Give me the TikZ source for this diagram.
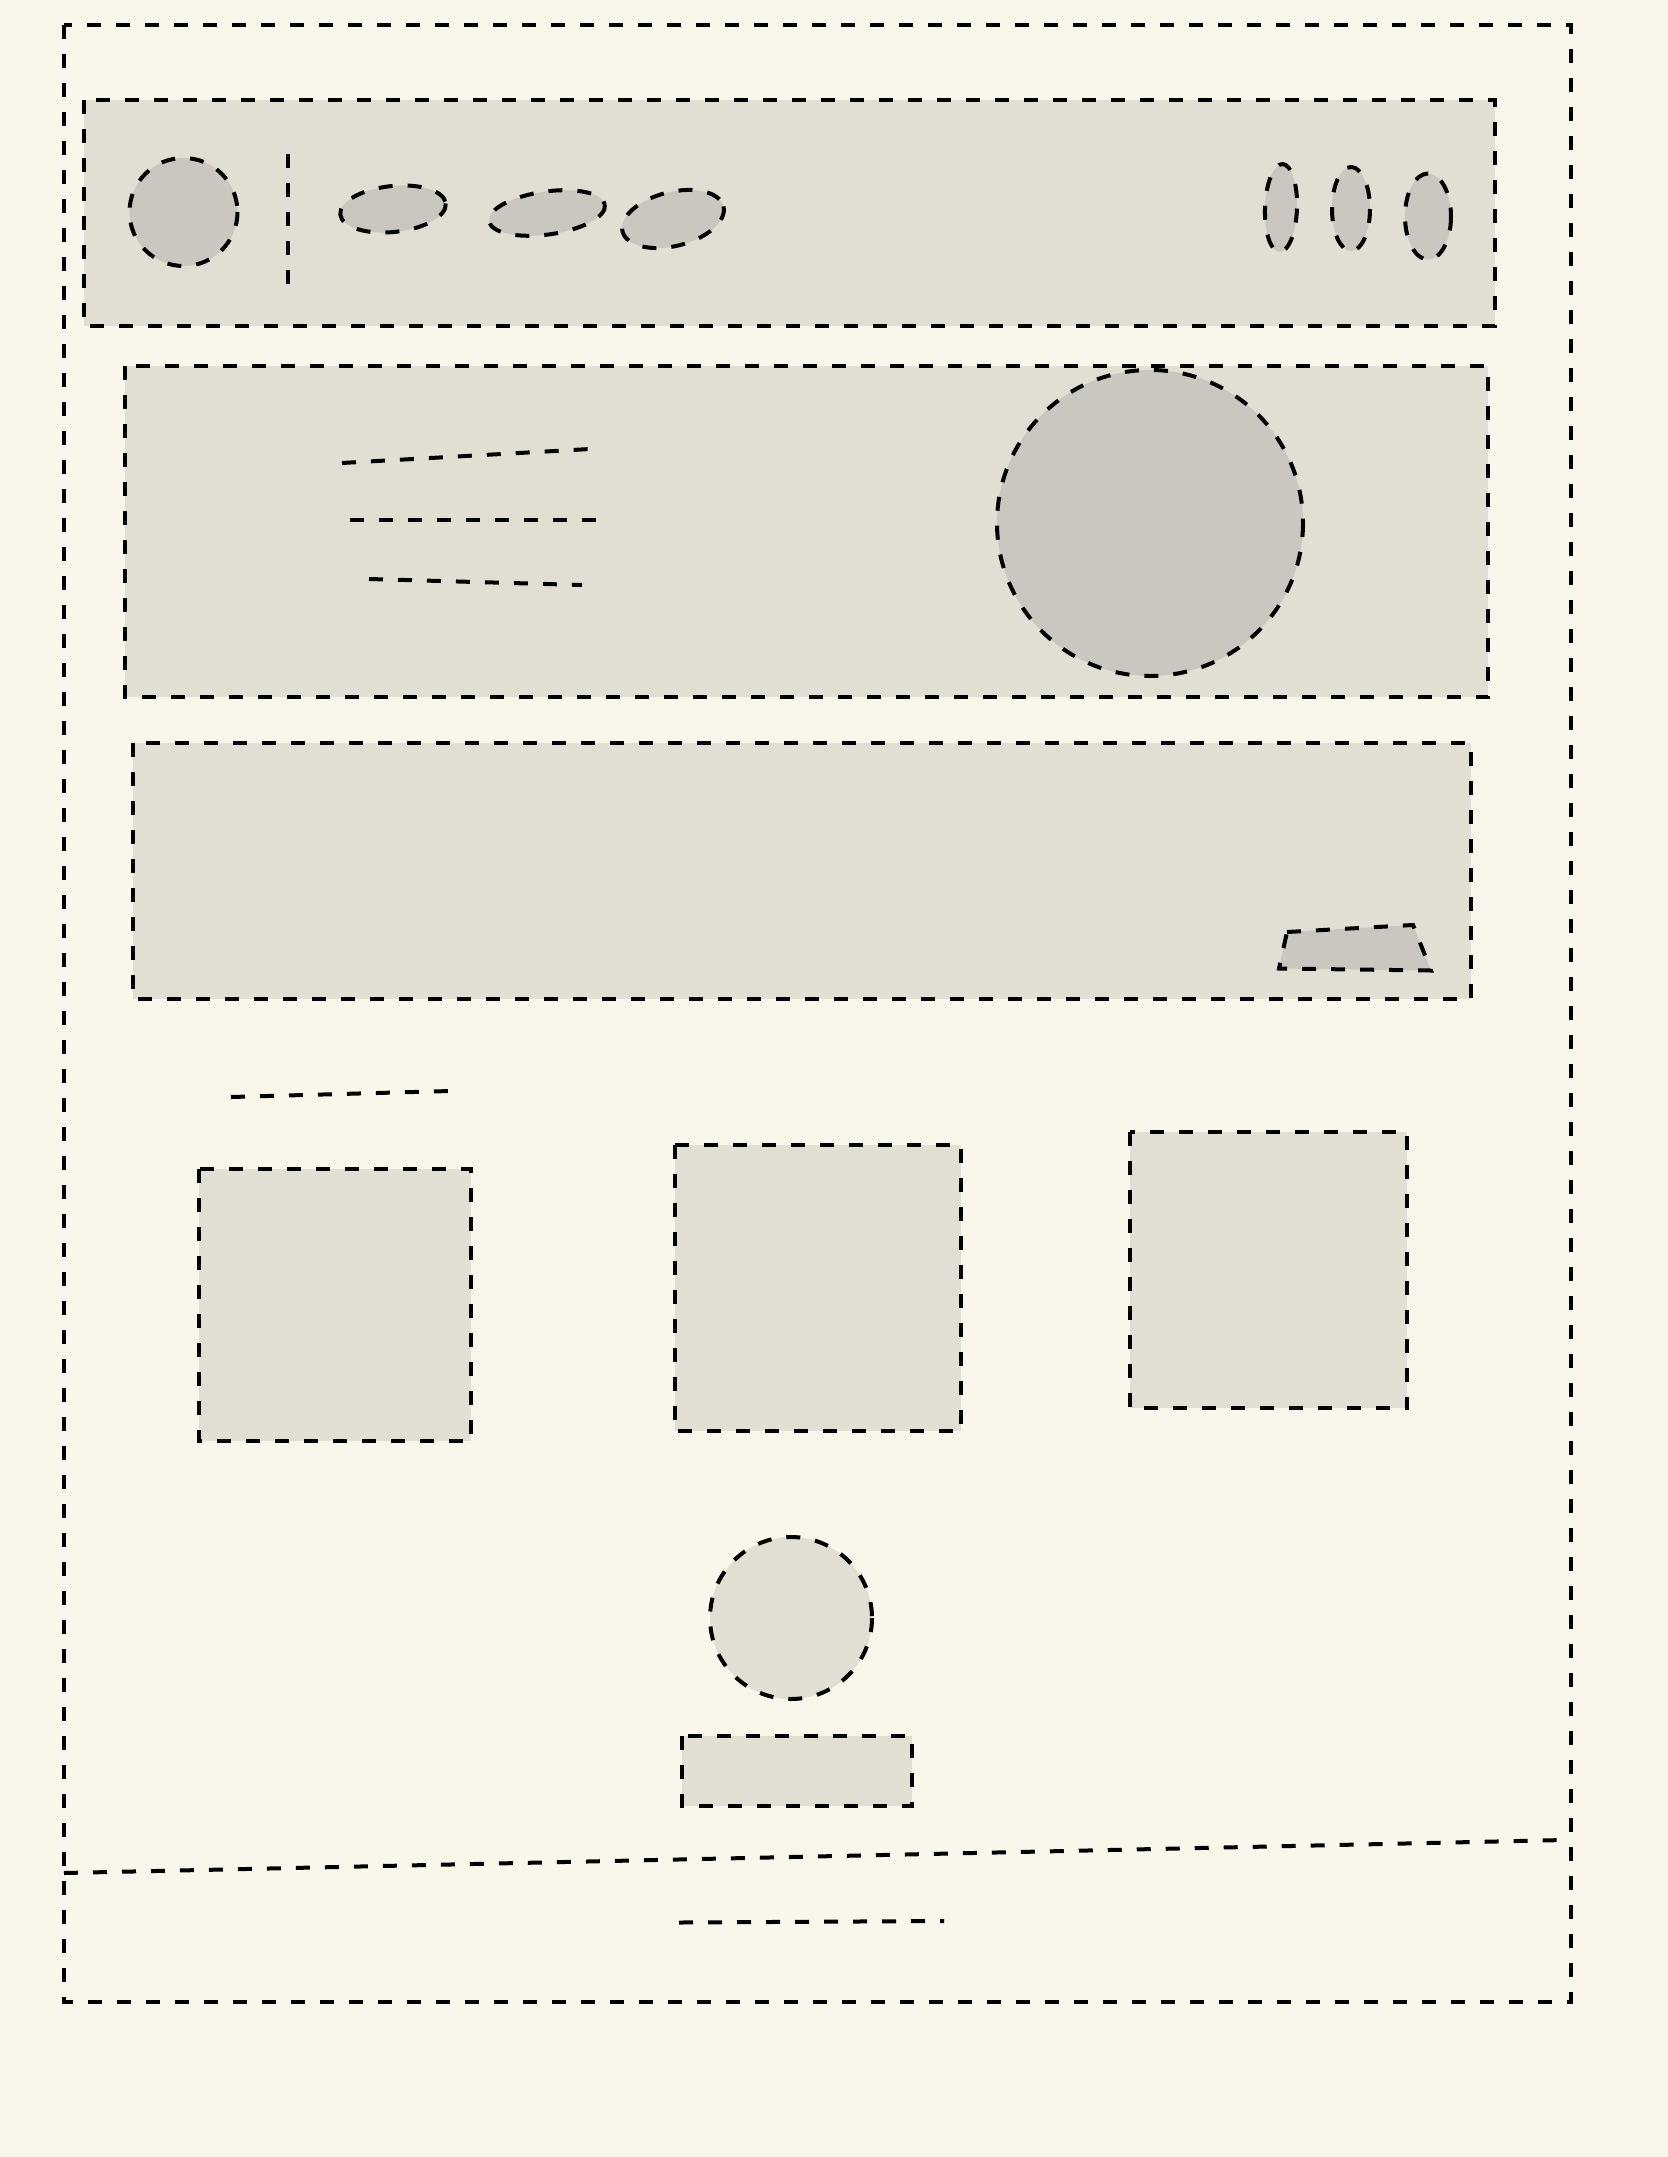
\documentclass[tikz,border=0pt]{standalone}
\definecolor{bgcream}{HTML}{F9F7EC}
\definecolor{boxfill}{HTML}{E1DFD4}
\definecolor{darkfill}{HTML}{C9C7C0}
\tikzset{
  wire/.style={draw=black, line width=2pt, dash pattern=on 7pt off 7.5pt},
  panel/.style={wire, fill=boxfill},
  blob/.style={wire, fill=darkfill},
}
\begin{document}
\begin{tikzpicture}[x=0.5pt,y=-0.5pt]
\fill[bgcream] (0,0) rectangle (1668,2157);
\useasboundingbox (0,0) rectangle (1668,2157);
% outer page frame
\draw[wire] (64,25) rectangle (1571,2002);
% header bar
\draw[panel] (84,100) rectangle (1495,326);
\draw[blob] (183.5,212) circle (54);
\draw[wire] (288,154) -- (288,286);
\draw[blob, rotate around={6:(393,209)}] (393,209) ellipse (53 and 23);
\draw[blob, rotate around={8:(547,213)}] (547,213) ellipse (58.5 and 21.5);
\draw[blob, rotate around={14:(673,219)}] (673,219) ellipse (52 and 27);
\draw[blob, rotate around={-2:(1281,208)}] (1281,208) ellipse (16 and 44);
\draw[blob] (1351,209) ellipse (19 and 42);
\draw[blob] (1428,216.5) ellipse (23 and 43);
% hero
\draw[panel] (124.5,366) rectangle (1488,697);
\draw[blob] (1150,523) circle (153);
\coordinate (h1a) at (342,463);  \coordinate (h1b) at (590,449);
\coordinate (h2a) at (350,520);  \coordinate (h2b) at (600,520);
\coordinate (h3a) at (369,579);  \coordinate (h3b) at (582,585);
\draw[wire] (h1a) -- (h1b);
\draw[wire] (h2a) -- (h2b);
\draw[wire] (h3a) -- (h3b);
% banner
\draw[panel] (133,743) rectangle (1471,999);
\draw[blob] (1287,932) -- (1413,925) -- (1431,970.5) -- (1279,968.5) -- cycle;
% section title
\coordinate (t1a) at (231,1097); \coordinate (t1b) at (450,1091);
\draw[wire] (t1a) -- (t1b);
% cards
\draw[panel] (199,1169) rectangle (471,1441);
\draw[panel] (674.5,1144.5) rectangle (960.5,1431);
\draw[panel] (1130,1131.5) rectangle (1407,1408);
% avatar and button
\draw[panel] (791,1618) circle (81);
\draw[panel] (682,1736) rectangle (912,1806);
% footer separator and text line
\coordinate (s1) at (64,1873); \coordinate (s2) at (1564,1840);
\draw[wire] (s1) -- (s2);
\coordinate (f1) at (679,1922.5); \coordinate (f2) at (944,1921);
\draw[wire] (f1) -- (f2);
\end{tikzpicture}
\end{document}
